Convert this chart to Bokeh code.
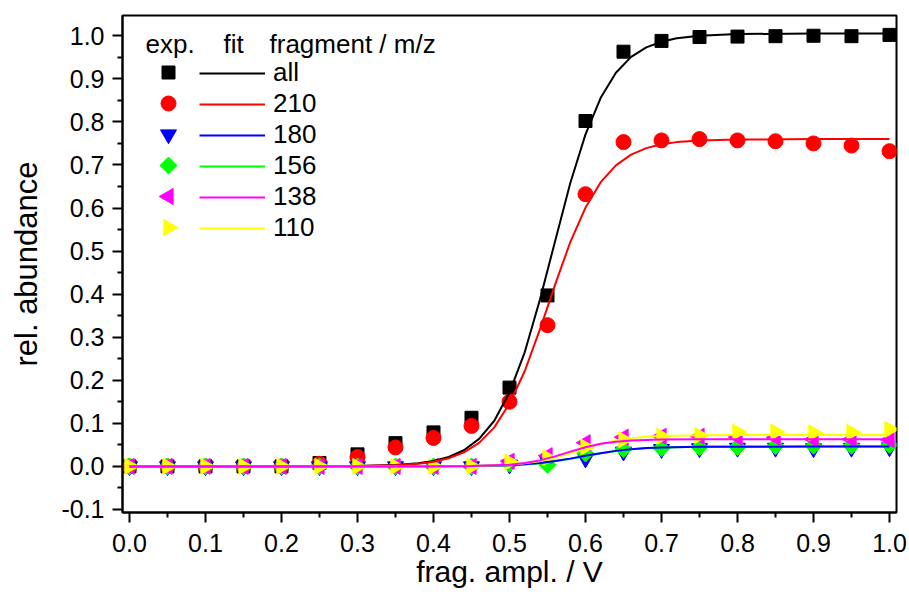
import math
from bokeh.plotting import figure
from bokeh.models import Range1d, FixedTicker, PrintfTickFormatter, Legend, LegendItem, Label
from bokeh.embed import file_html
from bokeh.resources import INLINE

# ---------------- data ----------------
frag_ampl = [0.00, 0.05, 0.10, 0.15, 0.20, 0.25, 0.30, 0.35, 0.40, 0.45, 0.50,
             0.55, 0.60, 0.65, 0.70, 0.75, 0.80, 0.85, 0.90, 0.95, 1.00]

exp_all = [0.000, 0.000, 0.000, 0.000, 0.000, 0.008, 0.028, 0.054, 0.079, 0.113, 0.183,
           0.397, 0.802, 0.963, 0.988, 0.997, 0.998, 0.999, 1.000, 0.999, 1.002]
exp_210 = [0.000, 0.000, 0.000, 0.000, 0.000, 0.006, 0.022, 0.044, 0.066, 0.094, 0.150,
           0.328, 0.632, 0.753, 0.757, 0.760, 0.757, 0.755, 0.750, 0.745, 0.732]
exp_180 = [0.000, 0.000, 0.000, 0.000, 0.000, 0.000, 0.000, 0.000, 0.000, 0.000, 0.004,
           0.012, 0.018, 0.034, 0.040, 0.042, 0.043, 0.043, 0.042, 0.043, 0.044]
exp_156 = [0.000, 0.000, 0.000, 0.000, 0.000, 0.000, 0.000, 0.000, 0.000, 0.000, 0.006,
           0.004, 0.030, 0.040, 0.042, 0.045, 0.045, 0.047, 0.048, 0.048, 0.050]
exp_138 = [0.000, 0.000, 0.000, 0.000, 0.000, 0.000, 0.000, 0.000, 0.000, 0.000, 0.012,
           0.025, 0.055, 0.068, 0.070, 0.070, 0.068, 0.067, 0.063, 0.063, 0.062]
exp_110 = [0.000, 0.000, 0.000, 0.000, 0.000, 0.000, 0.000, 0.000, 0.000, 0.000, 0.010,
           0.020, 0.045, 0.062, 0.070, 0.072, 0.080, 0.080, 0.078, 0.079, 0.086]

fit_x_main = [0.00, 0.30, 0.35, 0.38, 0.40, 0.42, 0.44, 0.46, 0.48, 0.50, 0.52, 0.54, 0.56,
              0.58, 0.60, 0.62, 0.64, 0.66, 0.68, 0.70, 0.72, 0.75, 0.80, 0.90, 1.00]
fit_all = [0.000, 0.0008, 0.0032, 0.0073, 0.0127, 0.0218, 0.0375, 0.064, 0.106, 0.172, 0.265,
           0.387, 0.523, 0.658, 0.771, 0.856, 0.914, 0.951, 0.973, 0.986, 0.994, 1.000,
           1.004, 1.005, 1.005]
fit_210 = [0.000, 0.0007, 0.0028, 0.0063, 0.011, 0.019, 0.0325, 0.0547, 0.0906, 0.146, 0.221,
           0.318, 0.422, 0.521, 0.601, 0.660, 0.699, 0.724, 0.739, 0.748, 0.753, 0.757,
           0.759, 0.760, 0.760]

fit_x_minor = [0.00, 0.40, 0.45, 0.50, 0.52, 0.54, 0.56, 0.58, 0.60, 0.62, 0.64, 0.66,
               0.68, 0.70, 0.75, 0.80, 0.90, 1.00]
fit_180 = [0.000, 0.0002, 0.0007, 0.0029, 0.0048, 0.0079, 0.0124, 0.0181, 0.0246, 0.0307,
           0.0361, 0.0400, 0.0425, 0.0439, 0.0455, 0.0459, 0.046, 0.046]
fit_156 = [0.000, 0.0001, 0.0006, 0.0027, 0.0045, 0.0075, 0.0120, 0.0178, 0.0243, 0.0305,
           0.0360, 0.0399, 0.0424, 0.0438, 0.0455, 0.0460, 0.0461, 0.0461]
fit_138 = [0.000, 0.0001, 0.0007, 0.0040, 0.0077, 0.0140, 0.0233, 0.0344, 0.0447, 0.0526,
           0.0575, 0.0601, 0.0616, 0.0623, 0.0629, 0.063, 0.063, 0.063]
fit_110 = [0.000, 0.0002, 0.0009, 0.0041, 0.0073, 0.0127, 0.0204, 0.0307, 0.0420, 0.0523,
           0.0603, 0.0657, 0.0690, 0.0708, 0.0725, 0.0729, 0.073, 0.073]

fragments = ["all", "210", "180", "156", "138", "110"]
legend_header = ["exp.", "fit", "fragment / m/z"]
x_title = "frag. ampl. / V"
y_title = "rel. abundance"
x_ticks = [0.0, 0.1, 0.2, 0.3, 0.4, 0.5, 0.6, 0.7, 0.8, 0.9, 1.0]
y_ticks = [-0.1, 0.0, 0.1, 0.2, 0.3, 0.4, 0.5, 0.6, 0.7, 0.8, 0.9, 1.0]
x_minor = [0.05, 0.15, 0.25, 0.35, 0.45, 0.55, 0.65, 0.75, 0.85, 0.95]
y_minor = [-0.05, 0.05, 0.15, 0.25, 0.35, 0.45, 0.55, 0.65, 0.75, 0.85, 0.95]

# ---------------- styles / layout ----------------
FONT = "Liberation Sans"
colors = ["black", "#FF0000", "#0000FF", "#00FF00", "#FF00FF", "#FFFF00"]
markers = ["square", "circle", "inverted_triangle", "square", "triangle", "triangle"]
angles = [0.0, 0.0, 0.0, math.pi / 4, math.pi / 2, -math.pi / 2]
sizes = [13, 15, 16, 12, 16, 16]

W, H = 909, 595
BL, BR, BT, BB = 122, 13, 15, 83
FW, FH = W - BL - BR, H - BT - BB

p = figure(width=W, height=H, output_backend="svg", toolbar_location=None,
           x_range=Range1d(-0.0092, 1.0092), y_range=Range1d(-0.107, 1.047),
           min_border_left=BL, min_border_right=BR, min_border_top=BT, min_border_bottom=BB)
p.background_fill_color = "white"
p.border_fill_color = "white"
p.grid.visible = False
p.outline_line_color = "black"
p.outline_line_width = 2
# pixel ranges for the legend symbols (frame-relative, y downwards)
p.extra_x_ranges = {"px": Range1d(0, FW)}
p.extra_y_ranges = {"px": Range1d(FH, 0)}

for ax, ticks, minor in ((p.xaxis[0], x_ticks, x_minor), (p.yaxis[0], y_ticks, y_minor)):
    ax.ticker = FixedTicker(ticks=ticks, minor_ticks=minor)
    ax.formatter = PrintfTickFormatter(format="%.1f")
    ax.axis_line_width = 2
    ax.major_tick_line_width = 2
    ax.minor_tick_line_width = 2
    ax.major_tick_out = 10
    ax.major_tick_in = 0
    ax.minor_tick_out = 5
    ax.minor_tick_in = 0
    ax.major_label_text_font = FONT
    ax.major_label_text_font_size = "25px"
    ax.major_label_text_color = "black"
    ax.axis_label_text_font = FONT
    ax.axis_label_text_font_style = "normal"
    ax.axis_label_text_color = "black"

p.xaxis.axis_label = x_title
p.yaxis.axis_label = y_title
p.xaxis.axis_label_text_font_size = "30px"
p.yaxis.axis_label_text_font_size = "31px"
p.xaxis.major_label_standoff = 11
p.xaxis.axis_label_standoff = 0
p.yaxis.major_label_standoff = 8
p.yaxis.axis_label_standoff = 14

# experimental points
exp_series = [exp_all, exp_210, exp_180, exp_156, exp_138, exp_110]
for ys, c, m, a, s in zip(exp_series, colors, markers, angles, sizes):
    p.scatter(frag_ampl, ys, marker=m, angle=a, size=s, color=c)

# fits (drawn on top of the points)
l_all = p.line(fit_x_main, fit_all, line_color=colors[0], line_width=2)
l_210 = p.line(fit_x_main, fit_210, line_color=colors[1], line_width=2)
l_156 = p.line(fit_x_minor, fit_156, line_color=colors[3], line_width=2)
l_180 = p.line(fit_x_minor, fit_180, line_color=colors[2], line_width=2)
l_110 = p.line(fit_x_minor, fit_110, line_color=colors[5], line_width=2)
l_138 = p.line(fit_x_minor, fit_138, line_color=colors[4], line_width=2)
fit_lines = [l_all, l_210, l_180, l_156, l_138, l_110]

# legend: fit lines + labels through Bokeh's Legend
ROW0, PITCH = 57, 31          # frame-relative centre of first row, row pitch (px)
LEG_FONT = "26px"
leg = Legend(items=[LegendItem(label=f, renderers=[r]) for f, r in zip(fragments, fit_lines)],
             location=(77, 269), orientation="vertical",
             glyph_width=66, glyph_height=24, label_height=24, spacing=0,
             padding=0, margin=0, label_standoff=8,
             label_text_font=FONT, label_text_font_size=LEG_FONT, label_text_color="black",
             border_line_color=None, background_fill_alpha=0)
p.add_layout(leg, "center")

# legend: experimental symbols column
leg_x = [46] * len(fragments)
leg_y = [ROW0 + i * PITCH for i in range(len(fragments))]
for lx, ly, c, m, a, s in zip(leg_x, leg_y, colors, markers, angles, sizes):
    p.scatter([lx], [ly], marker=m, angle=a, size=s, color=c,
              x_range_name="px", y_range_name="px")

# legend header
for txt, xs in zip(legend_header, (23, 101, 147)):
    p.add_layout(Label(x=xs, y=FH - 28, x_units="screen", y_units="screen", text=txt,
                       text_font=FONT, text_font_size=LEG_FONT, text_baseline="middle",
                       text_color="black"))

open("out.html", "w").write(file_html(p, INLINE))
